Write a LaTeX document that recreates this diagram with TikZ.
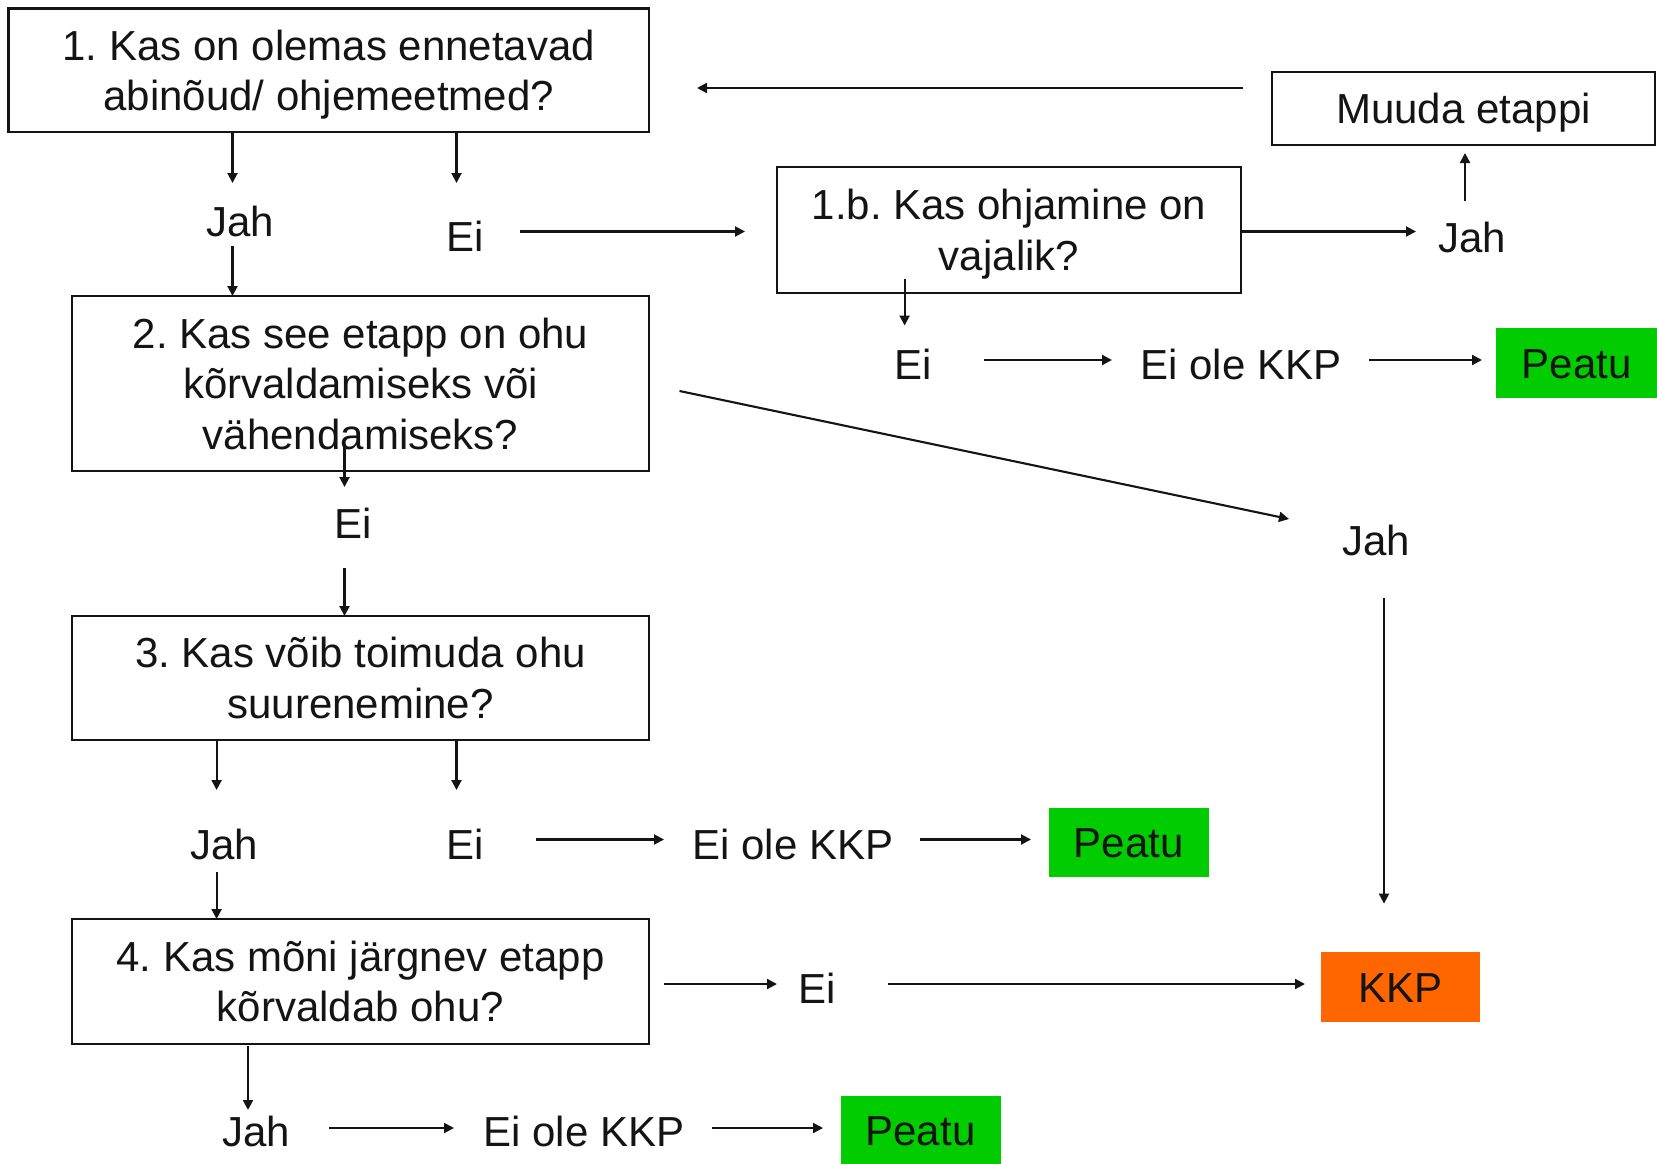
\documentclass[tikz,border=0pt]{standalone}
\usepackage{fontspec}
\setmainfont{Liberation Sans}
\usetikzlibrary{arrows.meta}
\definecolor{stopgreen}{HTML}{00CC00}
\definecolor{kkporange}{HTML}{FF6600}
\definecolor{ink}{HTML}{141414}
\newcommand\mytop{\rule{0pt}{39pt}}
\newcommand\mybot{\rule[-9pt]{0pt}{9pt}}
\begin{document}
\frenchspacing
\begin{tikzpicture}[x=1pt,y=-1pt,
  every node/.style={font=\fontsize{42}{50.5}\selectfont, inner sep=0pt, text=ink},
  box/.style={draw=ink, line width=2.2pt, align=center},
  lbl/.style={text height=30pt, text depth=0pt},
  stopbox/.style={lbl, fill=stopgreen, minimum width=160pt, minimum height=69pt},
  kkpbox/.style={lbl, fill=kkporange, minimum width=159pt, minimum height=70pt},
  arr/.style={draw=ink, line width=2.1pt, -{Triangle[length=10pt,width=10pt]}}]
\useasboundingbox (0,0) rectangle (1657,1164);

% boxes
\node[box, minimum width=640.5pt, minimum height=123.5pt] (b1) at (328.75,70.25)
  {\mytop 1. Kas on olemas ennetavad\\abinõud/ ohjemeetmed?\mybot};
\node[box, minimum width=464pt, minimum height=126pt] (b1b) at (1009,230)
  {\mytop 1.b. Kas ohjamine on\\vajalik?\mybot};
\node[box, minimum width=383pt, minimum height=73pt, lbl] (muuda) at (1463.5,108.5) {Muuda etappi};
\node[box, minimum width=577pt, minimum height=175pt] (b2) at (360.5,383.5)
  {\mytop 2. Kas see etapp on ohu\\kõrvaldamiseks või\\vähendamiseks?\mybot};
\node[box, minimum width=577pt, minimum height=124pt] (b3) at (360.5,678)
  {\mytop 3. Kas võib toimuda ohu\\suurenemine?\mybot};
\node[box, minimum width=577pt, minimum height=125pt] (b4) at (360.5,981.5)
  {\mytop 4. Kas mõni järgnev etapp\\kõrvaldab ohu?\mybot};

% coloured end boxes
\node[stopbox, minimum width=161pt, minimum height=70pt] (p1) at (1576.5,363) {Peatu};
\node[stopbox] (p3) at (1128.5,842.5) {Peatu};
\node[kkpbox] (kkp) at (1400.5,987) {KKP};
\node[stopbox, minimum height=68pt] (p4) at (920.5,1130) {Peatu};

% labels
\node[lbl] (j1) at (240,221) {Jah};
\node[lbl] (e1) at (465,236) {Ei};
\node[lbl] (j1b) at (1472,237) {Jah};
\node[lbl] (e1b) at (913,364) {Ei};
\node[lbl] (k1b) at (1241,364) {Ei ole KKP};
\node[lbl] (e2) at (353,523) {Ei};
\node[lbl] (j2) at (1376,540) {Jah};
\node[lbl] (j3) at (224,844) {Jah};
\node[lbl] (e3) at (465,844) {Ei};
\node[lbl] (k3) at (793,844) {Ei ole KKP};
\node[lbl] (e4) at (817,988) {Ei};
\node[lbl] (j4) at (256,1131) {Jah};
\node[lbl] (k4) at (584,1131) {Ei ole KKP};

% connectors
\draw[arr] (232.5,132) -- (232.5,183);
\draw[arr] (456.5,132) -- (456.5,183);
\draw[arr] (232.5,246) -- (232.5,296);
\draw[arr] (520,231.5) -- (745,231.5);
\draw[arr] (1241,231.5) -- (1416,231.5);
\draw[arr] (1465,201) -- (1465,153);
\draw[arr] (1243,88) -- (697,88);
\draw[arr] (904.6,279) -- (904.6,325.5);
\draw[arr] (984,360) -- (1112,360);
\draw[arr] (1369,360) -- (1482,360);
\draw[arr] (344.5,444) -- (344.5,487);
\draw[arr] (344.5,567.5) -- (344.5,616);
\draw[arr] (679.5,391) -- (1289,519);
\draw[arr] (1384,598) -- (1384,903.6);
\draw[arr] (216.6,740) -- (216.6,790);
\draw[arr] (456.5,740) -- (456.5,790);
\draw[arr] (536,839.5) -- (664,839.5);
\draw[arr] (920,839.5) -- (1031,839.5);
\draw[arr] (216.6,872) -- (216.6,919);
\draw[arr] (664,984) -- (777,984);
\draw[arr] (888,984) -- (1305,984);
\draw[arr] (248,1046) -- (248,1110);
\draw[arr] (329,1128) -- (454,1128);
\draw[arr] (712,1128) -- (823,1128);
\end{tikzpicture}
\end{document}
